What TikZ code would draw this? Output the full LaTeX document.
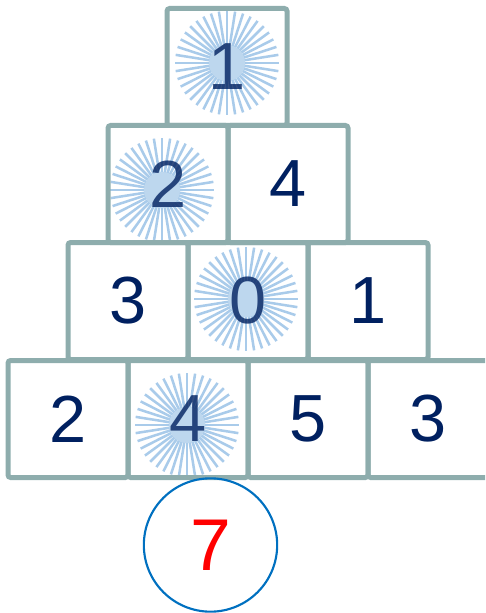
\documentclass[tikz,border=0pt]{standalone}
\usepackage{fontspec}
\setmainfont{Liberation Sans}
\definecolor{cellline}{HTML}{8EADAD}
\definecolor{navy}{HTML}{002060}
\definecolor{rayblue}{HTML}{A9CBEA}
\definecolor{raydisk}{HTML}{BDD7EE}
\definecolor{ringblue}{HTML}{0070C0}
\pgfdeclarelayer{background}
\pgfsetlayers{background,main}
\tikzset{
  cell/.style={draw=cellline, line width=3.75pt, rounded corners=2pt,
    minimum width=90pt, minimum height=87.75pt, inner sep=0pt,
    font=\fontsize{50}{50}\selectfont, text=navy},
  lit/.style={text opacity=0.8},
  ray/.style={draw=rayblue, line width=1.9pt},
}
\begin{document}
\begin{tikzpicture}[x=0.75pt, y=-0.75pt]
  \clip (0,0) rectangle (485,613);
  \useasboundingbox (0,0) rectangle (485,613);

  % bottom row
  \node[cell] (d1) at (68,419) {2};
  \node[cell, lit] (d2) at (188,419) {4};
  \node[cell] (d3) at (308,419) {5};
  \node[cell] (d4) at (428,419) {3};
  % third row
  \node[cell] (c1) at (128,301) {3};
  \node[cell, lit] (c2) at (248,301) {0};
  \node[cell] (c3) at (368,301) {1};
  % second row
  \node[cell, lit] (b1) at (168,184) {2};
  \node[cell] (b2) at (288,184) {4};
  % top
  \node[cell, lit] (a1) at (227,67) {1};

  % bursts behind the lit cells
  \begin{pgfonlayer}{background}
    \foreach \c/\dx/\dy in {a1/0/-4, b1/-6/6, c2/-2/-2, d2/-1/6} {
      \begin{scope}[shift={(\c.center)}, shift={(\dx,\dy)}]
        \foreach \a in {0,9,...,351}
          \draw[ray] (\a:12) -- (\a:52);
        \fill[raydisk] (0,0) circle (18);
      \end{scope}
    }
  \end{pgfonlayer}

  \node[circle, draw=ringblue, line width=1.6pt, minimum size=100pt, inner sep=0pt,
    font=\fontsize{55}{55}\selectfont, text=red] (ans) at (210.5,545) {7};
\end{tikzpicture}
\end{document}
